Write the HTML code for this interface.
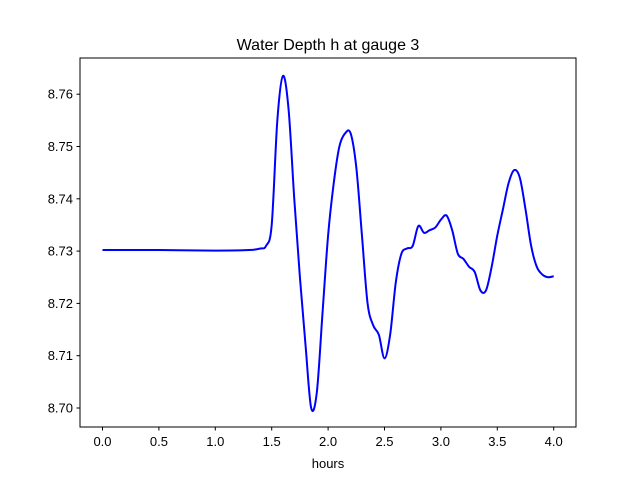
<!DOCTYPE html>
<html><head><meta charset="utf-8">
<style>
body{margin:0;background:#fff;}
svg{display:block;font-family:"Liberation Sans","DejaVu Sans",sans-serif;}
</style></head>
<body>
<svg id="chart" width="640" height="480">
<rect width="640" height="480" fill="#fff"/>
<text x="328" y="50" text-anchor="middle" font-size="16">Water Depth h at gauge 3</text>
<g id="plot"></g>
<rect x="80" y="58" width="496" height="369" fill="none" stroke="#000" stroke-width="1"/>
<text x="328" y="468" text-anchor="middle" font-size="13">hours</text>
</svg>
<script>
const times = [0,0.5,1.0,1.3,1.4,1.45,1.5,1.55,1.6,1.65,1.7,1.75,1.8,1.85,1.9,1.95,2.0,2.05,2.1,2.15,2.2,2.25,2.3,2.35,2.4,2.45,2.5,2.55,2.6,2.65,2.7,2.75,2.8,2.85,2.9,2.95,3.0,3.05,3.1,3.15,3.2,3.25,3.3,3.35,3.4,3.45,3.5,3.55,3.6,3.65,3.7,3.75,3.8,3.85,3.9,3.95,4.0];
const depth = [8.7302,8.7302,8.7301,8.7302,8.7305,8.7310,8.735,8.755,8.7635,8.757,8.740,8.725,8.712,8.700,8.703,8.718,8.733,8.743,8.750,8.7525,8.7525,8.746,8.733,8.720,8.7158,8.714,8.7095,8.714,8.724,8.7295,8.7305,8.731,8.7348,8.7335,8.734,8.7345,8.736,8.7368,8.734,8.7295,8.7285,8.727,8.726,8.7225,8.7225,8.727,8.733,8.738,8.743,8.7455,8.744,8.738,8.731,8.727,8.7255,8.725,8.7252];
const xTicks = [0,0.5,1.0,1.5,2.0,2.5,3.0,3.5,4.0];
const yTicks = [8.70,8.71,8.72,8.73,8.74,8.75,8.76];

const NS="http://www.w3.org/2000/svg";
const sx = t => 102.5 + t*112.8;
const sy = v => 408 - (v-8.70)*5230;
const g = document.getElementById('plot');
function mk(tag, attrs){const e=document.createElementNS(NS,tag);for(const k in attrs)e.setAttribute(k,attrs[k]);return e;}

xTicks.forEach(t=>{
  const x=sx(t);
  const l=mk('line',{x1:x,x2:x,y1:427,y2:430.5,stroke:'#000'});
  
  
  g.appendChild(l);
  const tx=mk('text',{x:x,y:446,'text-anchor':'middle','font-size':'13'});
  tx.textContent=t.toFixed(1);
  
  
  g.appendChild(tx);
});
yTicks.forEach(v=>{
  const y=sy(v);
  const l=mk('line',{x1:76.5,x2:80,y1:y,y2:y,stroke:'#000'});
  
  
  g.appendChild(l);
  const tx=mk('text',{x:73,y:y+4.5,'text-anchor':'end','font-size':'13'});
  tx.textContent=v.toFixed(2);
  
  
  g.appendChild(tx);
});

const pts = times.map((t,i)=>[sx(t),sy(depth[i])]);
let d='M'+pts[0][0]+','+pts[0][1];
for(let i=0;i<pts.length-1;i++){
  const p0=pts[Math.max(i-1,0)],p1=pts[i],p2=pts[i+1],p3=pts[Math.min(i+2,pts.length-1)];
  const c1=[p1[0]+(p2[0]-p0[0])/6,p1[1]+(p2[1]-p0[1])/6];
  const c2=[p2[0]-(p3[0]-p1[0])/6,p2[1]-(p3[1]-p1[1])/6];
  d+=` C${c1[0]},${c1[1]} ${c2[0]},${c2[1]} ${p2[0]},${p2[1]}`;
}
const path=mk('path',{d:d,fill:'none',stroke:'#0000ff','stroke-width':'2'});


g.appendChild(path);
</script>
</body></html>
